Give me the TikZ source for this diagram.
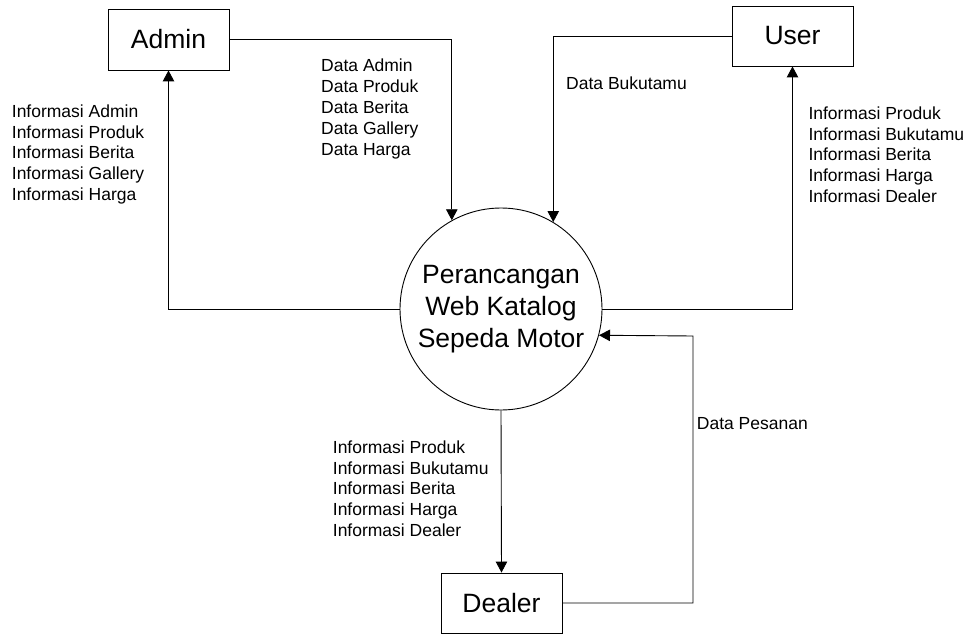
\documentclass[tikz,border=0pt]{standalone}
\usepackage{fontspec}
\setmainfont{Liberation Sans}
\usetikzlibrary{arrows.meta}

\tikzset{
  entity/.style={draw, line width=0.9pt, rectangle, minimum width=121pt, minimum height=60pt,
    inner sep=0pt, font=\fontsize{26.5}{32}\selectfont},
  process/.style={draw, line width=0.9pt, circle, minimum size=202pt, inner sep=0pt,
    align=center, font=\fontsize{26.5}{32.3}\selectfont},
  flow/.style={line width=0.9pt, -{Triangle[length=11pt, width=11.5pt]}},
  flowlabel/.style={anchor=north west, inner sep=0pt, align=left,
    font=\fontsize{17.5}{20.8}\selectfont}
}

\begin{document}
\begin{tikzpicture}[x=1pt, y=-1pt]
  \useasboundingbox (0,0) rectangle (970,634);

  % external entities and the central process
  \node[entity, minimum height=61pt] (admin) at (168.5,39.5) {Admin};
  \node[entity] (user) at (792.5,36) {User};
  \node[entity] (dealer) at (501.5,603) {Dealer};
  \node[process] (proc) at (501,309) {Perancangan\\Web Katalog\\Sepeda Motor};

  % bend point of the order flow coming back from Dealer
  \coordinate (bend) at (693,336);

  % data flows
  \draw[flow] (admin.east) -| (proc.119.7);
  \draw[flow] (user.west) -| (proc.59);
  \draw[flow] (proc.west) -| (admin.south);
  \draw[flow] (proc.east) -| (user.south);
  \draw[flow] (proc.south) -- (dealer.north);
  \draw[flow] (dealer.east) -| (bend) -- (proc.-15.5);

  % flow labels
  \node[flowlabel] (lblAdminOut) at (11.7,104.5) {Informasi Admin\\Informasi Produk\\Informasi Berita\\Informasi Gallery\\Informasi Harga};
  \node[flowlabel] (lblAdminIn) at (321,59) {Data Admin\\Data Produk\\Data Berita\\Data Gallery\\Data Harga};
  \node[flowlabel] (lblUserIn) at (566,76.5) {Data Bukutamu};
  \node[flowlabel] (lblUserOut) at (808.3,106.5) {Informasi Produk\\Informasi Bukutamu\\Informasi Berita\\Informasi Harga\\Informasi Dealer};
  \node[flowlabel] (lblDealerOut) at (332.7,440.5) {Informasi Produk\\Informasi Bukutamu\\Informasi Berita\\Informasi Harga\\Informasi Dealer};
  \node[flowlabel] (lblDealerIn) at (696.7,417.5) {Data Pesanan};
\end{tikzpicture}
\end{document}
